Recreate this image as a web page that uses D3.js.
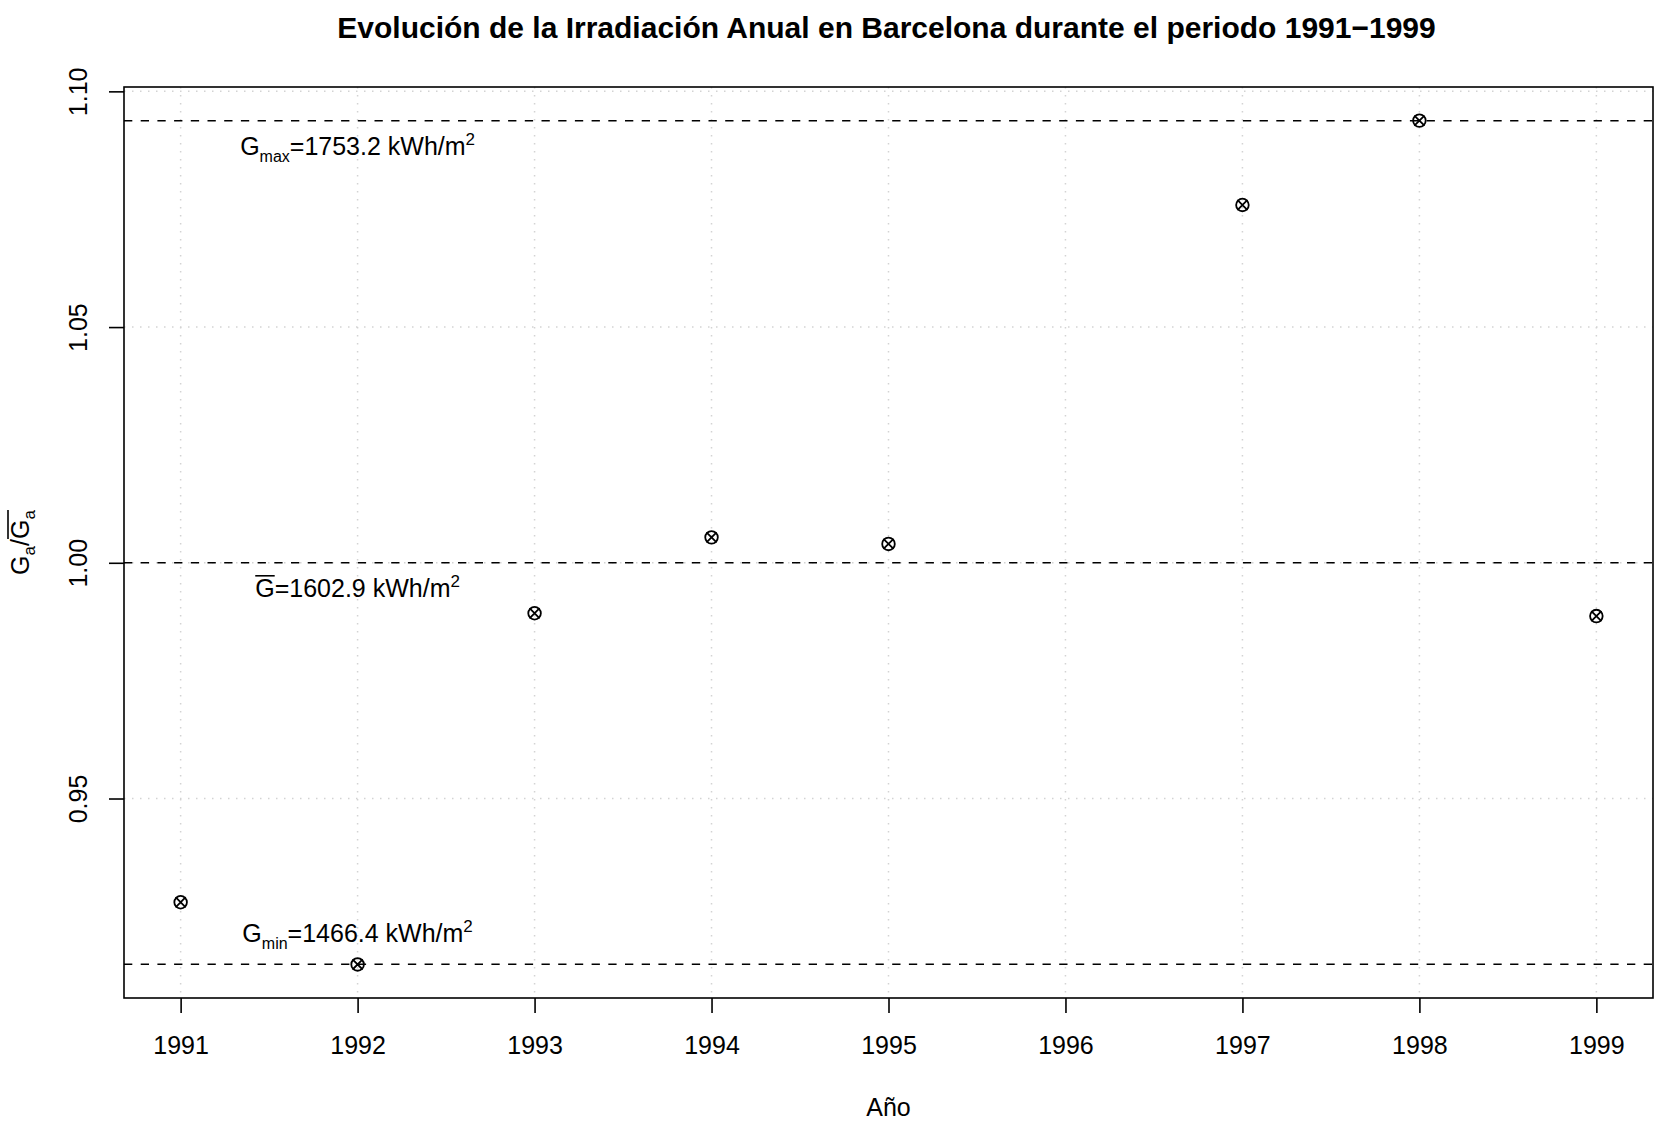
<!DOCTYPE html>
<meta charset="utf-8">
<style>
body { margin: 0; background: #fff; }
text { font-family: "Liberation Sans", Arial, sans-serif; fill: #000; }
</style>
<svg width="1663" height="1124"></svg>
<script src="https://d3js.org/d3.v7.min.js"></script>
<script>

// annual irradiation relative to the 1991-1999 mean (1996 missing)
var years = [1991, 1992, 1993, 1994, 1995, 1997, 1998, 1999];
var ratios = [0.9280, 0.9148, 0.9893, 1.0054, 1.0040, 1.0759, 1.0938, 0.9887];

var yearTicks = [1991, 1992, 1993, 1994, 1995, 1996, 1997, 1998, 1999];
var ratioTicks = [0.95, 1.00, 1.05, 1.10];

// reference values, kWh/m2
var gMean = 1602.9;
var refKinds = ["max", "mean", "min"];
var refValues = [1753.2, 1602.9, 1466.4];

var svg = d3.select("svg"),
    margin = {top: 87, right: 10, bottom: 126, left: 124},
    width = +svg.attr("width") - margin.left - margin.right,
    height = +svg.attr("height") - margin.top - margin.bottom;

var fs = 25, fsSub = 16;

// R style 4% padding
var yLo = refValues[2] / gMean, yHi = refValues[0] / gMean;
var yPad = (yHi - yLo) * 0.04;
var x = d3.scaleLinear().domain([1991 - 0.32, 1999 + 0.32]).range([0, width]),
    y = d3.scaleLinear().domain([yLo - yPad, yHi + yPad]).range([height, 0]);

var g = svg.append("g")
    .attr("transform", "translate(" + margin.left + "," + margin.top + ")");

// grid
g.selectAll(".vgrid")
  .data(yearTicks)
  .enter().append("line")
    .attr("x1", function(d) { return x(d); })
    .attr("x2", function(d) { return x(d); })
    .attr("y1", 0).attr("y2", height)
    .attr("stroke", "#d3d3d3").attr("stroke-width", 1.5)
    .attr("stroke-dasharray", "1.5,6.5");

g.selectAll(".hgrid")
  .data(ratioTicks)
  .enter().append("line")
    .attr("x1", 0).attr("x2", width)
    .attr("y1", function(d) { return y(d); })
    .attr("y2", function(d) { return y(d); })
    .attr("stroke", "#d3d3d3").attr("stroke-width", 1.5)
    .attr("stroke-dasharray", "1.5,6.5");

// reference lines
g.selectAll(".ref")
  .data(refValues)
  .enter().append("line")
    .attr("x1", 0).attr("x2", width)
    .attr("y1", function(d) { return y(d / gMean); })
    .attr("y2", function(d) { return y(d / gMean); })
    .attr("stroke", "#000").attr("stroke-width", 1.6)
    .attr("stroke-dasharray", "8.3,8.4");

// reference labels
refKinds.forEach(function(kind, i) {
  var yy = y(refValues[i] / gMean) + (kind == "min" ? -22 : 34);
  var t = g.append("text")
      .attr("x", x(1992))
      .attr("y", yy)
      .attr("text-anchor", "middle")
      .attr("font-size", fs);
  t.append("tspan").text("G");
  if (kind != "mean") {
    t.append("tspan").attr("font-size", fsSub).attr("dy", 7).text(kind);
    t.append("tspan").attr("dy", -7).text("=" + refValues[i].toFixed(1) + " kWh/m");
  } else {
    t.append("tspan").text("=" + refValues[i].toFixed(1) + " kWh/m");
  }
  t.append("tspan").attr("font-size", 17).attr("dy", -10).text("2");
  if (kind == "mean") {
    var e = t.node().getExtentOfChar(0);
    g.append("line")
      .attr("x1", e.x).attr("x2", e.x + e.width)
      .attr("y1", yy - 21).attr("y2", yy - 21)
      .attr("stroke", "#000").attr("stroke-width", 1.6);
  }
});

// points, pch 13
var r = 6.3, c = r * 0.8;
var pts = g.selectAll(".pt")
  .data(years)
  .enter().append("g")
    .attr("transform", function(d, i) { return "translate(" + x(d) + "," + y(ratios[i]) + ")"; });
pts.append("circle").attr("r", r)
    .attr("fill", "none").attr("stroke", "#000").attr("stroke-width", 1.8);
pts.append("path").attr("d", "M" + (-c) + "," + (-c) + "L" + c + "," + c + "M" + (-c) + "," + c + "L" + c + "," + (-c))
    .attr("stroke", "#000").attr("stroke-width", 1.8);

// axes
var xAxis = g.append("g")
    .attr("transform", "translate(0," + height + ")")
    .call(d3.axisBottom(x).tickValues(yearTicks).tickFormat(d3.format("d")).tickSize(15).tickPadding(25));
var yAxis = g.append("g")
    .call(d3.axisLeft(y).tickValues(ratioTicks).tickFormat(d3.format(".2f")).tickSize(15));

[xAxis, yAxis].forEach(function(a) {
  a.select(".domain").remove();
  a.selectAll("line").attr("stroke", "#000").attr("stroke-width", 1.6);
  a.selectAll("text").attr("font-size", fs).attr("font-family", null).attr("fill", "#000");
});
xAxis.selectAll("text").attr("dy", null).attr("y", 56);
yAxis.selectAll("text")
    .attr("x", null).attr("dy", null)
    .attr("text-anchor", "middle")
    .attr("transform", "translate(-37,0) rotate(-90)");

// box
g.append("rect")
    .attr("width", width).attr("height", height)
    .attr("fill", "none").attr("stroke", "#000").attr("stroke-width", 1.6);

// title and axis labels
svg.append("text")
    .attr("x", margin.left + width / 2 - 2).attr("y", 38)
    .attr("text-anchor", "middle")
    .attr("font-size", 30).attr("font-weight", "bold")
    .text("Evolución de la Irradiación Anual en Barcelona durante el periodo 1991\u22121999");

svg.append("text")
    .attr("x", margin.left + width / 2).attr("y", 1116)
    .attr("text-anchor", "middle")
    .attr("font-size", fs)
    .text("Año");

var yl = svg.append("g")
    .attr("transform", "translate(29," + (margin.top + height / 2) + ") rotate(-90)");
var ylt = yl.append("text").attr("text-anchor", "middle").attr("font-size", fs);
ylt.append("tspan").text("G");
ylt.append("tspan").attr("font-size", 17).attr("dy", 6).text("a");
ylt.append("tspan").attr("dy", -6).text("/G");
ylt.append("tspan").attr("font-size", 17).attr("dy", 6).text("a");
var e3 = ylt.node().getExtentOfChar(3), e4 = ylt.node().getExtentOfChar(4);
yl.append("line")
    .attr("x1", e3.x).attr("x2", e4.x + e4.width)
    .attr("y1", -21).attr("y2", -21)
    .attr("stroke", "#000").attr("stroke-width", 1.6);

</script>
